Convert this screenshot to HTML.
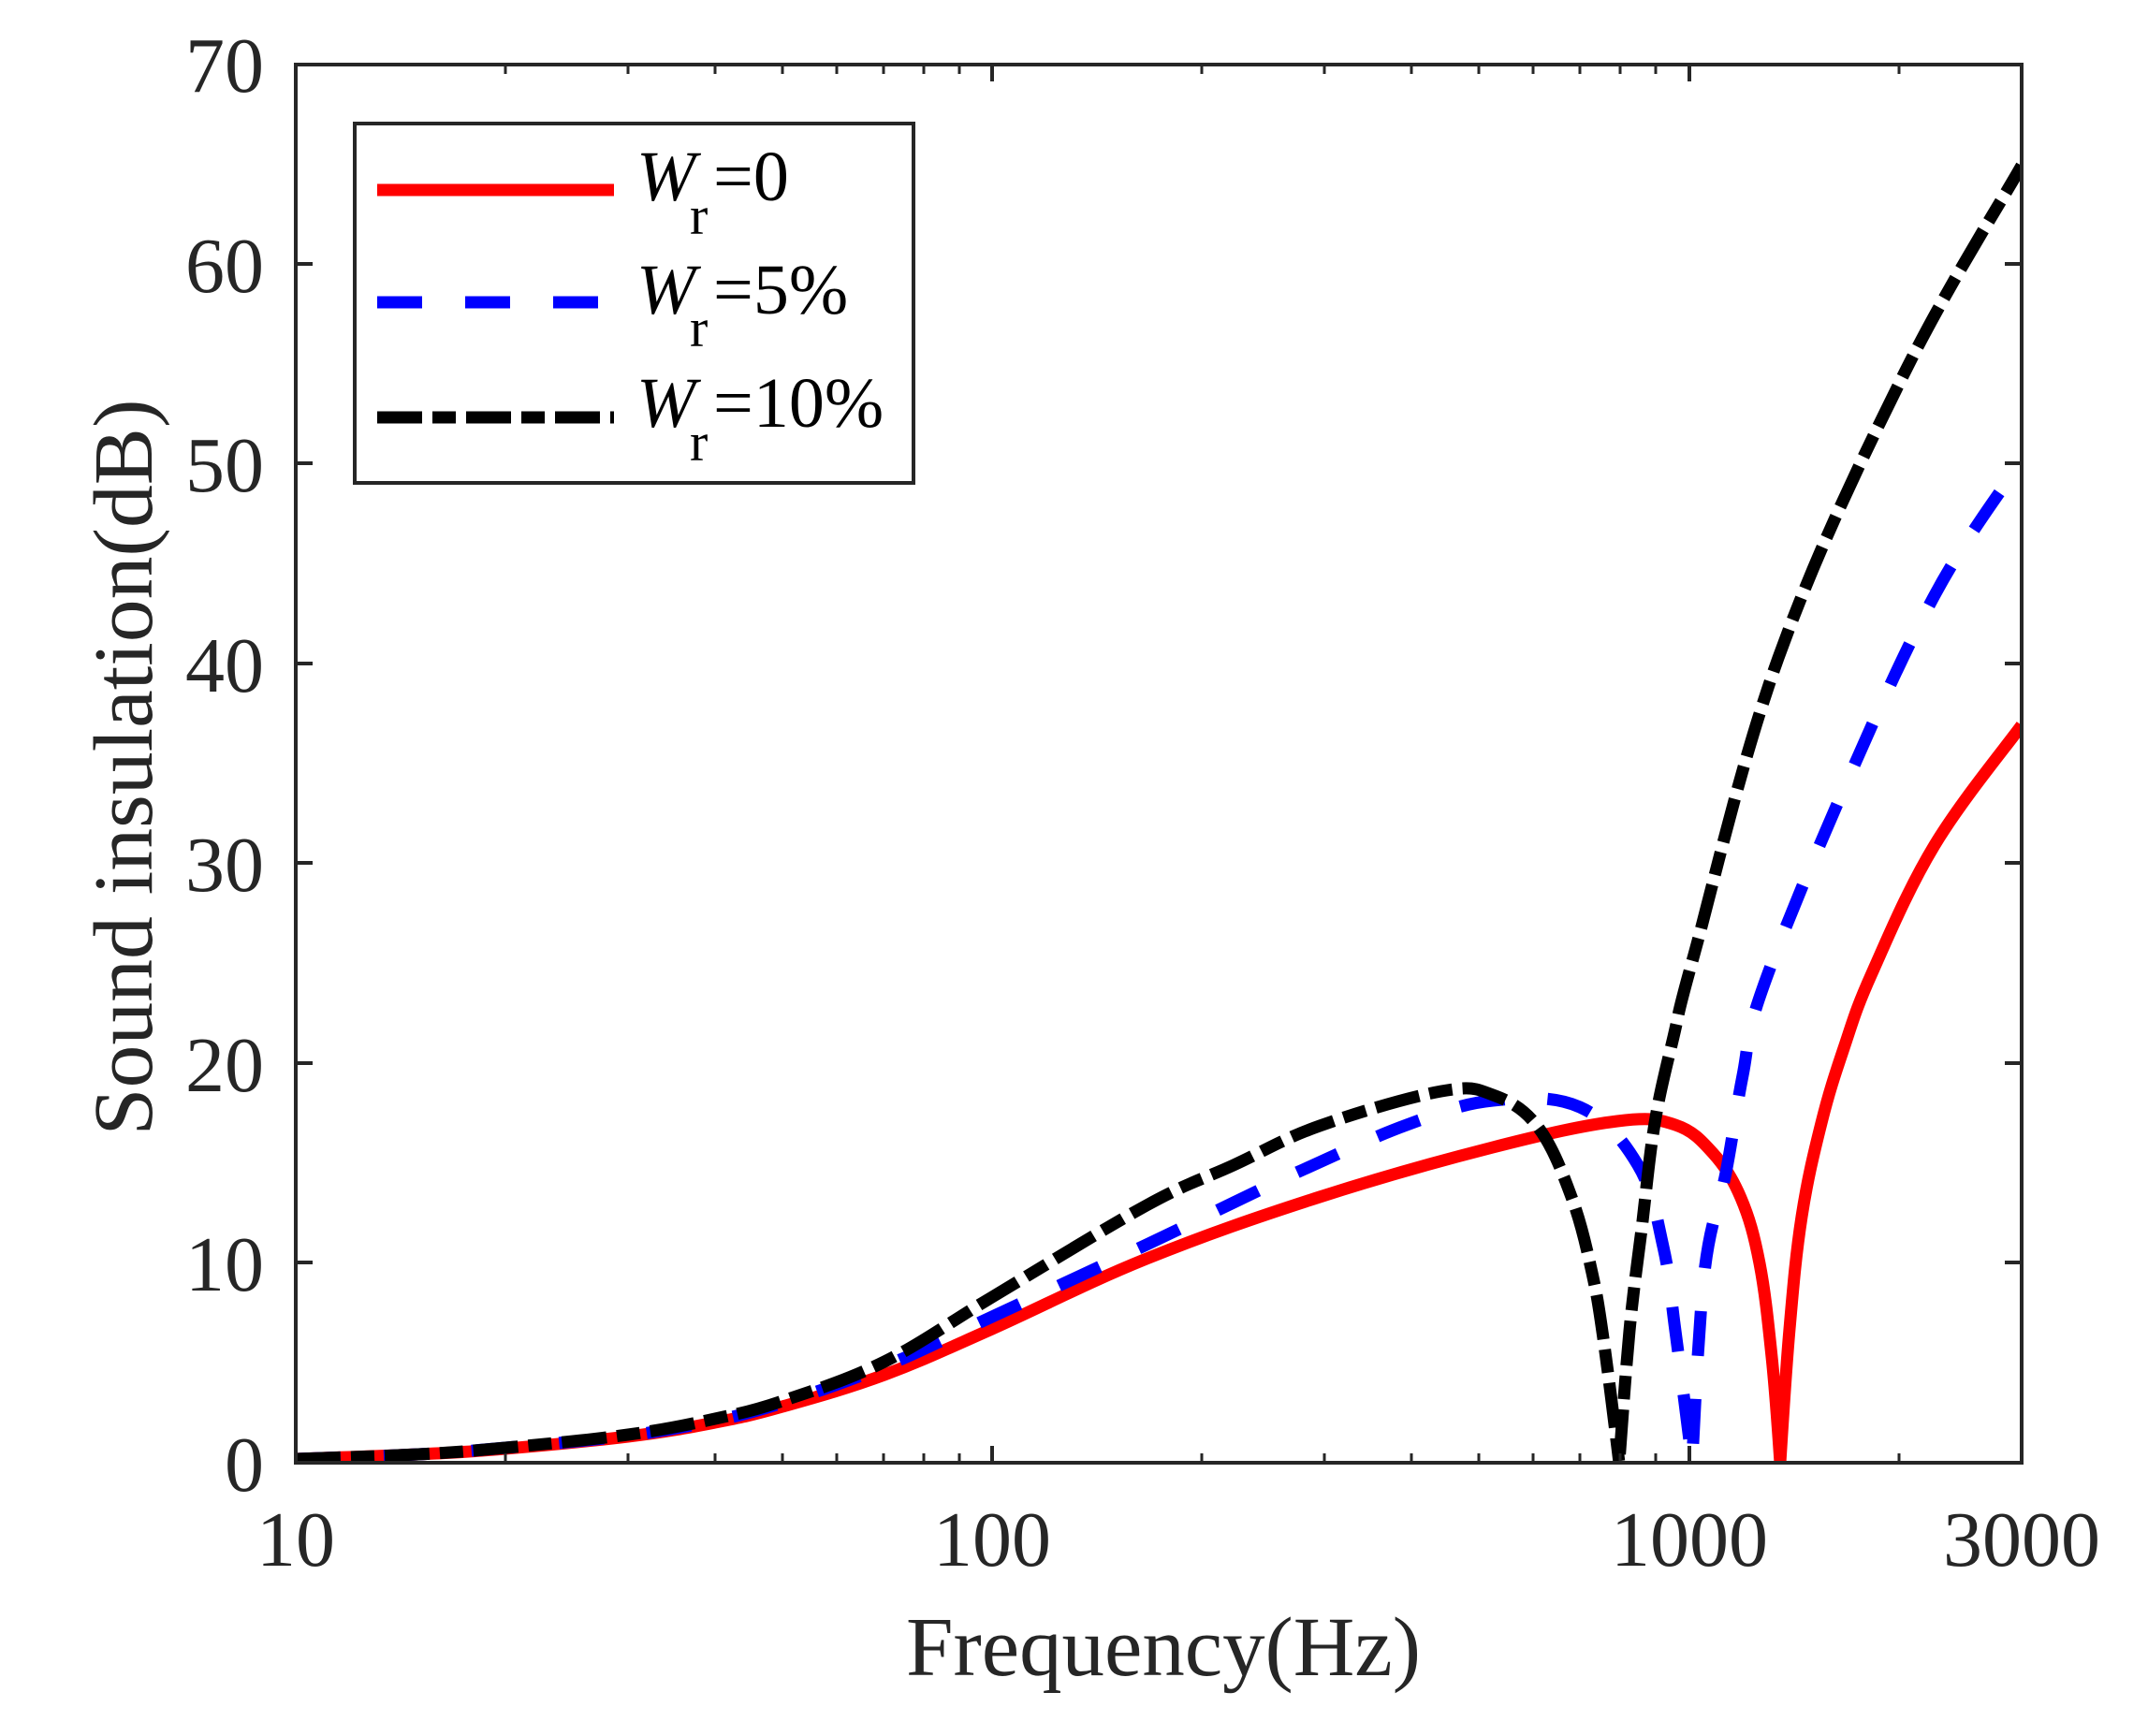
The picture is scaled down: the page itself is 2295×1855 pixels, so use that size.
<!DOCTYPE html>
<html><head><meta charset="utf-8"><style>html,body{margin:0;padding:0;background:#fff}svg{display:block}</style></head>
<body>
<svg width="2295" height="1855" viewBox="0 0 2295 1855" xmlns="http://www.w3.org/2000/svg" font-family="'Liberation Serif', serif" fill="#262626">
<defs><clipPath id="c"><rect x="316" y="69" width="1844" height="1496"/></clipPath></defs>
<rect width="2295" height="1855" fill="#fff"/>
<g fill="none" stroke-linejoin="round" clip-path="url(#c)">
<polyline class="cv" stroke="#ff0000" stroke-width="13" points="316,1559 447,1554 540,1548 671,1535 764,1520 836,1503 945,1469 1060,1420 1225,1345 1410,1279 1595,1226 1728,1198 1790,1202 1830,1232 1860,1280 1880,1350 1893,1450 1902,1563 1912,1420 1925,1300 1946,1200 1970,1120 2000,1040 2067,903 2160,775"/>
<polyline class="cv" stroke="#0000ff" stroke-width="13" stroke-dasharray="48,46" points="316,1559 447,1554 540,1547 671,1534 764,1518 836,1499 945,1460 1060,1407 1225,1330 1318,1285 1392,1250 1503,1202 1595,1176 1688,1183 1750,1245 1777,1332 1790,1422 1808,1563 1821,1360 1844,1253 1862,1149 1883,1057 1967,850 2067,636 2160,492"/>
<polyline class="cv" stroke="#000" stroke-width="13" stroke-dasharray="48,11,25,11" points="316,1559 447,1554 540,1547 671,1533 764,1516 836,1497 945,1455 1060,1386 1225,1288 1318,1245 1410,1203 1540,1166 1595,1170 1643,1204 1679,1279 1701,1360 1714,1437 1730,1563 1741,1422 1754,1313 1768,1200 1788,1108 1810,1020 1900,703 2033,402 2160,177"/>
</g>
<g stroke="#262626" stroke-width="4" fill="none">
<rect x="316" y="69" width="1844" height="1494"/>
<path d="M316,1349h18M316,1136h18M316,922h18M316,709h18M316,495h18M316,282h18M2160,1349h-18M2160,1136h-18M2160,922h-18M2160,709h-18M2160,495h-18M2160,282h-18"/>
<path d="M1060,1563v-18M1805,1563v-18M1060,69v18M1805,69v18"/>
<path stroke-width="3" d="M540,1563v-10M671,1563v-10M764,1563v-10M836,1563v-10M894,1563v-10M944,1563v-10M987,1563v-10M1025,1563v-10M1284,1563v-10M1415,1563v-10M1508,1563v-10M1580,1563v-10M1638,1563v-10M1688,1563v-10M1731,1563v-10M1769,1563v-10M2029,1563v-10M540,69v10M671,69v10M764,69v10M836,69v10M894,69v10M944,69v10M987,69v10M1025,69v10M1284,69v10M1415,69v10M1508,69v10M1580,69v10M1638,69v10M1688,69v10M1731,69v10M1769,69v10M2029,69v10"/>
</g>
<g font-size="84" text-anchor="end">
<text x="282" y="1593">0</text><text x="282" y="1379">10</text><text x="282" y="1166">20</text><text x="282" y="952">30</text><text x="282" y="739">40</text><text x="282" y="525">50</text><text x="282" y="312">60</text><text x="282" y="98">70</text>
</g>
<g font-size="84" text-anchor="middle">
<text x="316" y="1673">10</text><text x="1060" y="1673">100</text><text x="1805" y="1673">1000</text><text x="2160" y="1673">3000</text>
</g>
<text x="1243" y="1790" font-size="90" text-anchor="middle" textLength="550" lengthAdjust="spacingAndGlyphs">Frequency(Hz)</text>
<text transform="translate(162,820) rotate(-90)" font-size="90" text-anchor="middle" textLength="787" lengthAdjust="spacingAndGlyphs">Sound insulation(dB)</text>
<rect x="379" y="132" width="597" height="384" fill="#fff" stroke="#262626" stroke-width="4"/>
<g stroke-width="13" fill="none">
<line x1="403" y1="203" x2="656" y2="203" stroke="#ff0000"/>
<line x1="403" y1="323" x2="656" y2="323" stroke="#0000ff" stroke-dasharray="48,46"/>
<line x1="403" y1="446" x2="656" y2="446" stroke="#000" stroke-dasharray="48,11,25,11"/>
</g>
<g font-size="76" fill="#000">
<text x="680" y="214" font-style="italic">W</text><text x="737" y="250" font-size="58">r</text><text x="762" y="214">=0</text>
<text x="680" y="335" font-style="italic">W</text><text x="737" y="370" font-size="58">r</text><text x="762" y="335">=5%</text>
<text x="680" y="456" font-style="italic">W</text><text x="737" y="492" font-size="58">r</text><text x="762" y="456">=10%</text>
</g>
</svg>
<script>
document.querySelectorAll('polyline.cv').forEach(function(pl){
  var pts=pl.getAttribute('points').trim().split(/\s+/).map(function(s){return s.split(',').map(Number);});
  var d='M'+pts[0][0]+','+pts[0][1];
  for(var i=0;i<pts.length-1;i++){
    var p0=pts[i-1]||pts[i],p1=pts[i],p2=pts[i+1],p3=pts[i+2]||p2;
    var t=0.18;
    var c1x=p1[0]+(p2[0]-p0[0])*t,c1y=p1[1]+(p2[1]-p0[1])*t;
    var c2x=p2[0]-(p3[0]-p1[0])*t,c2y=p2[1]-(p3[1]-p1[1])*t;
    if(p1[1]>=1562){c1x=p1[0];c1y=p1[1];}
    if(p2[1]>=1562){c2x=p2[0];c2y=p2[1];}
    d+=' C'+c1x.toFixed(1)+','+c1y.toFixed(1)+' '+c2x.toFixed(1)+','+c2y.toFixed(1)+' '+p2[0]+','+p2[1];
  }
  var p=document.createElementNS('http://www.w3.org/2000/svg','path');
  ['stroke','stroke-width','stroke-dasharray'].forEach(function(a){if(pl.getAttribute(a))p.setAttribute(a,pl.getAttribute(a));});
  p.setAttribute('d',d);p.setAttribute('fill','none');p.setAttribute('stroke-linejoin','round');
  pl.parentNode.replaceChild(p,pl);
});
</script>
</body></html>
